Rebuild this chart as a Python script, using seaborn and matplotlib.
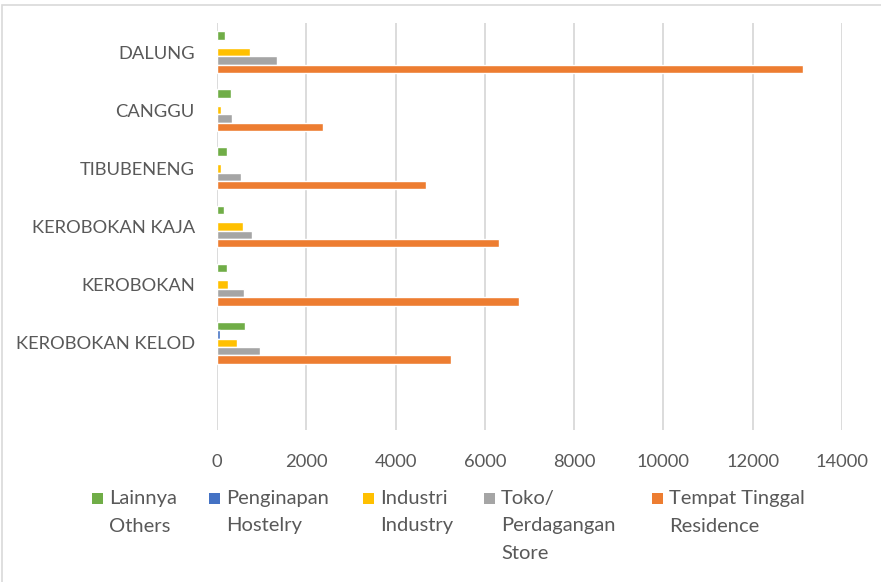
import pandas as pd
import matplotlib.pyplot as plt
import seaborn as sns
from matplotlib.patches import Rectangle

# values
desa = ['DALUNG', 'CANGGU', 'TIBUBENENG', 'KEROBOKAN KAJA', 'KEROBOKAN', 'KEROBOKAN KELOD']
lainnya = [180, 320, 215, 157, 230, 635]
penginapan = [0, 0, 0, 0, 0, 60]
industri = [745, 80, 90, 575, 255, 440]
toko = [1350, 345, 530, 777, 612, 963]
tempat_tinggal = [13130, 2380, 4690, 6310, 6770, 5235]

series = ['Lainnya\nOthers', 'Penginapan\nHostelry', 'Industri\nIndustry',
          'Toko/\nPerdagangan\nStore', 'Tempat Tinggal\nResidence']
colors = ['#70AD47', '#4472C4', '#FFC000', '#A5A5A5', '#ED7D31']

rows = []
for name, vals in zip(series, [lainnya, penginapan, industri, toko, tempat_tinggal]):
    for d, v in zip(desa, vals):
        rows.append({'Desa': d, 'Jenis': name, 'Jumlah': v})
df = pd.DataFrame(rows)

sns.set_style('white')
plt.rcParams['font.family'] = ['Lato', 'DejaVu Sans']

W, H = 881, 582
fig = plt.figure(figsize=(W / 100, H / 100), dpi=100)
ax = fig.add_axes([217 / W, 1 - 430 / H, (842 - 217) / W, (430 - 23) / H])

sns.barplot(data=df, y='Desa', x='Jumlah', hue='Jenis', order=desa, hue_order=series,
            palette=colors, orient='h', width=0.72, saturation=1, ax=ax, legend=False)

ax.set_xlim(0, 14000)
ax.set_ylim(6.5, -0.5)
ax.set_xticks(range(0, 14001, 2000))
ax.xaxis.grid(True, color='#D9D9D9', linewidth=1.3)
ax.yaxis.grid(False)
ax.set_axisbelow(True)
for s in ax.spines.values():
    s.set_visible(False)
ax.set_xlabel('')
ax.set_ylabel('')
ax.tick_params(axis='both', length=0, labelsize=13.2, labelcolor='#595959')
ax.tick_params(axis='y', pad=16)
ax.tick_params(axis='x', pad=17)

# legend below the plot, top-aligned multi-line entries like the original
legend_x = [92, 209, 363, 484, 652]
for x0, name, c in zip(legend_x, series, colors):
    fig.patches.append(Rectangle((x0 / W, 1 - 504 / H), 11 / W, 11 / H,
                                 transform=fig.transFigure, facecolor=c, edgecolor='none'))
    fig.text((x0 + 17) / W, 1 - 490 / H, name, ha='left', va='top', fontsize=14.5,
             color='#595959', linespacing=1.75)

fig.patches.append(Rectangle((2 / W, -0.5), 1.5, 0.5 + 1 - 5 / H, transform=fig.transFigure,
                             fill=False, edgecolor='#D9D9D9', linewidth=1.2))

fig.savefig('out.png', dpi=100)
